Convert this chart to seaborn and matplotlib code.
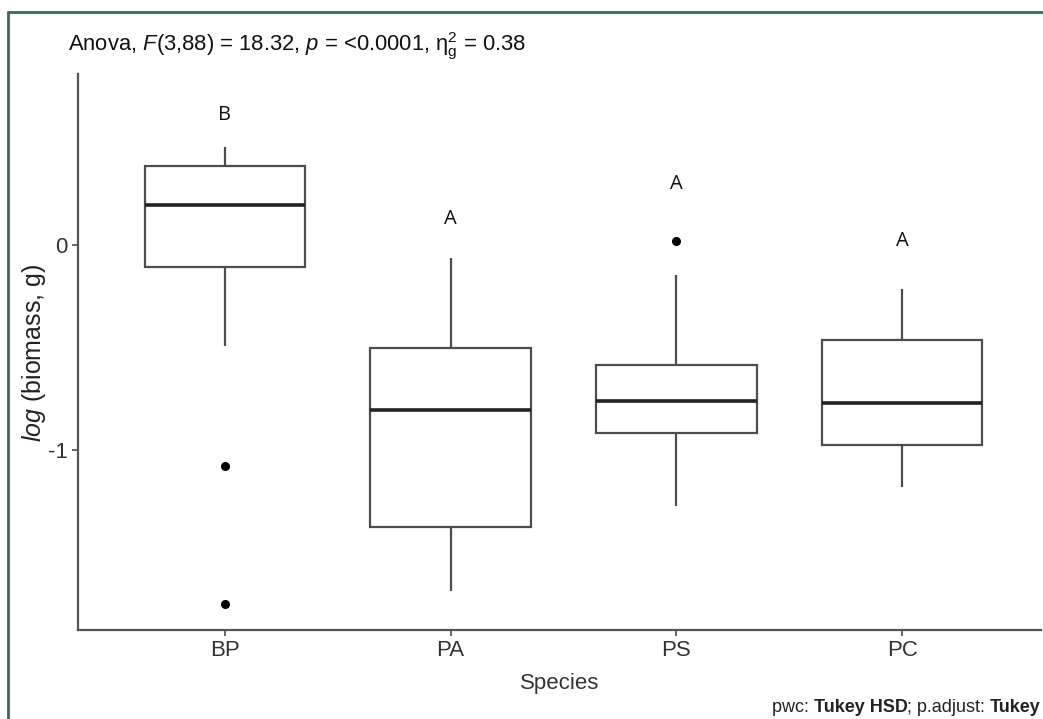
import pandas as pd
import matplotlib.pyplot as plt
import seaborn as sns
from matplotlib.lines import Line2D

# Data (log biomass per species)
species = ["BP", "PA", "PS", "PC"]
bp_vals = [-1.751, -1.078, -0.493, -0.107, 0.00, 0.10, 0.195, 0.28, 0.33, 0.385, 0.42, 0.45, 0.478]
pa_vals = [-1.688, -1.50, -1.376, -1.00, -0.805, -0.65, -0.502, -0.30, -0.063]
ps_vals = [-1.273, -1.00, -0.917, -0.85, -0.761, -0.65, -0.585, -0.146, 0.02]
pc_vals = [-1.180, -1.05, -0.976, -0.88, -0.771, -0.60, -0.463, -0.35, -0.215]

# Tukey group letters
letters = ["B", "A", "A", "A"]
letter_y = [0.634, 0.127, 0.298, 0.02]

title_txt = r"Anova, $\mathit{F}$(3,88) = 18.32, $\mathit{p}$ = <0.0001, $\mathregular{\eta_g^2}$ = 0.38"
caption_parts = [("pwc: ", "normal"), ("Tukey HSD", "bold"), ("; p.adjust: ", "normal"), ("Tukey", "bold")]

df = pd.DataFrame({
    "species": sum([[s] * len(v) for s, v in zip(species, [bp_vals, pa_vals, ps_vals, pc_vals])], []),
    "value": bp_vals + pa_vals + ps_vals + pc_vals,
})

sns.set_style("white")
plt.rcParams["font.family"] = ["Liberation Sans", "DejaVu Sans"]
plt.rcParams["mathtext.fontset"] = "custom"
plt.rcParams["mathtext.rm"] = "Liberation Sans"
plt.rcParams["mathtext.it"] = "Liberation Sans:italic"

fig = plt.figure(figsize=(10.43, 7.19), dpi=100)
ax = fig.add_axes([78 / 1043, 1 - 630 / 719, (1041 - 78) / 1043, (630 - 74) / 719])

line_col = "#4d4d4d"
sns.boxplot(
    data=df, x="species", y="value", order=species, ax=ax,
    color="white", linecolor=line_col, linewidth=1.6, width=0.71,
    showcaps=False, fliersize=5.5,
    flierprops=dict(marker="o", markerfacecolor="black", markeredgecolor="black"),
    medianprops=dict(color="#222222", linewidth=2.6),
)

for i, (lab, yv) in enumerate(zip(letters, letter_y)):
    ax.text(i, yv, lab, ha="center", va="center", fontsize=14.5, family=["Open Sans", "DejaVu Sans"], color="#111111")

ax.set_xlim(-0.650, 3.615)
ax.set_ylim(-1.878, 0.834)
ax.set_yticks([0, -1])
ax.set_yticklabels(["0", "-1"])
ax.tick_params(axis="both", labelsize=16, labelcolor="#333333", color=line_col,
               length=4, width=1.2, direction="out", bottom=True, left=True)
ax.set_xlabel("Species", fontsize=16, color="#333333", labelpad=8)
ax.set_ylabel(r"$\mathit{log}$ (biomass, g)", fontsize=18, color="#222222")
ax.yaxis.set_label_coords(-0.031, 0.498)
for s in ["top", "right"]:
    ax.spines[s].set_visible(False)
for s in ["left", "bottom"]:
    ax.spines[s].set_color("#555555")
    ax.spines[s].set_linewidth(1.6)

fig.text(68 / 1043, 1 - 46 / 719, title_txt, fontsize=15.8, va="center", ha="left", color="#111111")

# Caption with bold parts, right aligned
fig.canvas.draw()
renderer = fig.canvas.get_renderer()
x_right = 1041 / 1043
y_cap = 1 - 708 / 719
for txt, wt in reversed(caption_parts):
    t = fig.text(x_right, y_cap, txt, fontsize=13, fontweight=wt, ha="right", va="center", color="#222222")
    bb = t.get_window_extent(renderer)
    x_right -= bb.width / fig.bbox.width

# Outer green frame
frame_col = "#3b6b5a"
fig.add_artist(Line2D([8 / 1043, 8 / 1043], [0, 1 - 12 / 719], color=frame_col, lw=2))
fig.add_artist(Line2D([8 / 1043, 1], [1 - 12 / 719, 1 - 12 / 719], color=frame_col, lw=2))

fig.savefig("out.png", dpi=100)
plt.close(fig)
